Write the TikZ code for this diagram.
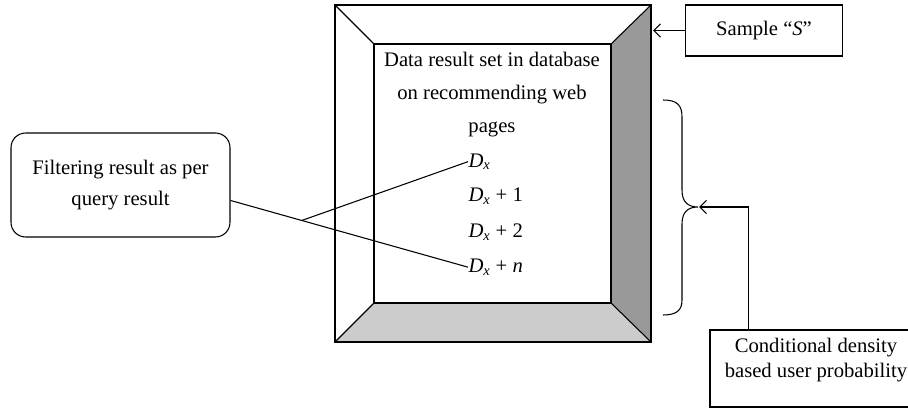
\documentclass[tikz,border=0pt]{standalone}
\usepackage{fontspec}
\setmainfont{Liberation Serif}
\usetikzlibrary{arrows.meta,calc}
\newcommand{\Dx}{\textit{D}\textsubscript{\textit{x}}}

\begin{document}
\begin{tikzpicture}[x=0.75pt,y=-0.75pt,line width=0.8pt,
  txt/.style={font=\fontsize{15.5}{#1}\selectfont,align=center,inner sep=0pt},
  txt/.default=20pt,
  box/.style={draw,line width=0.8pt},
  tip/.style={-{Straight Barb[length=5pt,width=10pt,line width=0.8pt]}}]
\useasboundingbox (0,0) rectangle (908,410);
\clip (0,0) rectangle (908,410);

% Corners of the bevelled frame
\coordinate (OTL) at (335,5);
\coordinate (OTR) at (651,5);
\coordinate (OBR) at (651,342);
\coordinate (OBL) at (335,342);
\coordinate (ITL) at (374,44);
\coordinate (ITR) at (611,44);
\coordinate (IBR) at (611,303);
\coordinate (IBL) at (374,303);

% Shaded sides, then the edges
\fill[black!40] (OTR) -- (OBR) -- (IBR) -- (ITR) -- cycle;
\fill[black!20] (OBL) -- (OBR) -- (IBR) -- (IBL) -- cycle;
\draw (OTL) rectangle (OBR);
\draw (ITL) rectangle (IBR);
\draw (OTL) -- (ITL) (OTR) -- (ITR) (OBR) -- (IBR) (OBL) -- (IBL);

% Contents of the data set
\node[txt=24.75pt] (data) at (492,95) {Data result set in database\\on recommending web\\pages};
\node[txt,anchor=base west] (dx0) at (468,167) {\Dx};
\node[txt,anchor=base west] (dx1) at (468,201.5) {\Dx{} + 1};
\node[txt,anchor=base west] (dx2) at (468,237.5) {\Dx{} + 2};
\node[txt,anchor=base west] (dxn) at (468,272.5) {\Dx{} + \textit{n}};

% Filtering box and the two lines to the set
\node[box,txt=23.25pt,rounded corners=11pt,minimum width=164.25pt,minimum height=78pt]
  (filter) at (120.5,185) {Filtering result as per\\query result};
\draw (filter.-8) -- (dxn.west);
\coordinate (fork) at ($(filter.-8)!0.3!(dxn.west)$);
\draw (fork) -- (dx0.west);

% Sample box
\node[box,txt,minimum width=117.75pt,minimum height=38.25pt] (sample) at (764,30.5) {Sample “\textit{S}”};
\coordinate (sampin) at (653,30.5);
\draw[tip] (sample.west) -- (sampin);

% Brace on the right of the frame
\coordinate (btop) at (663,100);
\coordinate (btip) at (698,207);
\coordinate (bbot) at (663,315);
\draw (btop) .. controls (677,100) and (682,105) .. (682,117) -- (682,190)
  .. controls (682,202) and (688,207) .. (btip)
  .. controls (688,207) and (682,212) .. (682,224) -- (682,300)
  .. controls (682,310) and (677,315) .. (bbot);

% Conditional density box
\node[box,minimum width=159pt,minimum height=57.75pt] (condbox) at (816,368.5) {};
\node[txt=18.75pt] (cond) at (816,360.5) {Conditional density\\based user probability};
\coordinate (condup) at ($(condbox.north west)+(39,0)$);
\draw[tip] (condup) |- ($(btip)+(1,0)$);

\end{tikzpicture}
\end{document}
